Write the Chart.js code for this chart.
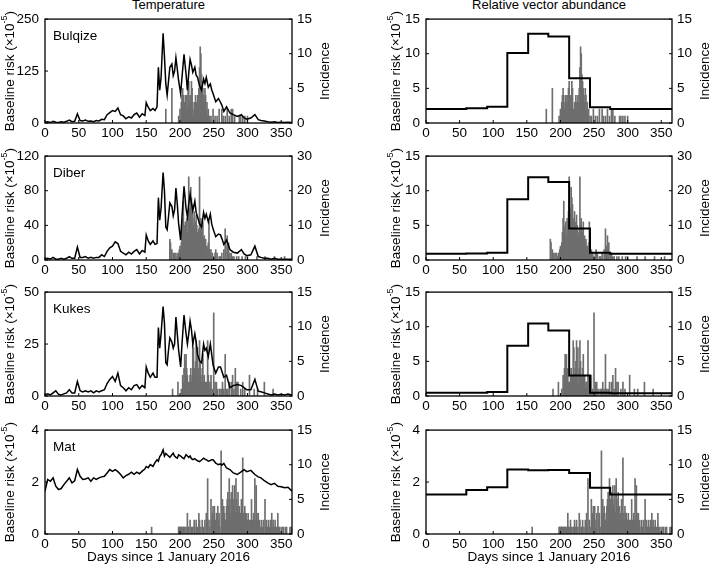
<!DOCTYPE html>
<html lang="en">
<head>
<meta charset="UTF-8">
<title>Baseline risk and incidence by district</title>
<style>
  body { margin: 0; background: #fff; overflow: hidden; width: 709px; height: 572px; position: relative;
         font-family: 'Liberation Sans', Arial, sans-serif; }
  canvas { position: absolute; }
  .colTitle { position: absolute; top: -3px; font-size: 13px; line-height: 16px; text-align: center; color: #000; }
</style>
</head>
<body>
<div class="colTitle" style="left:45px;width:247px">Temperature</div>
<div class="colTitle" style="left:426px;width:246px">Relative vector abundance</div>

<script src="https://cdn.jsdelivr.net/npm/chart.js"></script>
<script>
// ---- data ----
const districts = ['Bulqize', 'Diber', 'Kukes', 'Mat'];

// baseline risk driven by temperature, sampled days
const tempDays = [0,4,8,12,16,20,24,28,32,36, 40,44,48,52,56,60,64,68,72,76,
  80,84,88,92,96,100,104,108,112,116, 120,124,128,132,136,140,144,148,150,153,
  156,160,163,166,168,170,172,175,177,179, 181,183,185,188,190,192,194,196,198,201,
  203,206,209,211,213,215,217,219,222,224, 226,229,232,235,237,239,242,245,247,249,
  253,257,260,262,265,269,274,279,285,291, 295,299,305,311,316,320,325,330,335,340,
  345,350,355,360,366];
const bulqizeTemp = [2,3,1,4,2,1,3,2,4,7, 3,4,22,6,5,7,4,5,3,6,
  5,9,8,20,25,30,28,36,20,17, 10,15,12,20,24,14,22,18,49,38,
  30,35,30,39,134,79,110,216,160,94, 67,100,134,142,114,125,157,130,102,71,
  110,165,118,79,120,153,140,122,134,115, 110,90,79,106,95,110,86,94,80,71,
  51,59,50,43,28,39,24,20,16,20, 12,9,12,20,8,6,5,3,2,3,
  1,2,1,2,1];
const diberTemp = [1,2,1,3,1,1,2,1,2,4, 2,2,15,3,3,4,2,3,2,3,
  3,6,4,10,14,16,21,19,10,8, 6,9,7,10,12,7,11,9,29,22,
  18,22,18,19,72,46,60,101,80,38, 35,50,66,62,51,58,83,65,42,23,
  50,85,60,50,65,76,66,57,68,55, 50,42,38,55,48,53,44,53,42,36,
  27,30,29,25,18,23,12,9,8,12, 7,5,6,16,4,3,2,2,1,2,
  1,1,1,1,1];
const kukesTemp = [0.5,1,0.5,1.5,2.5,0.8,0.5,1,1.5,3, 1.5,1.5,7,2.5,2,2.5,2,2.5,1.5,2.5,
  2,2.5,3,6,8,9.4,7,11,5,4, 2.5,4,3,5,5.5,3.5,5,4,14,11,
  9,11,9,9,33,23,30,43,35,16, 15,22,28,26,23,25,38,30,22,14,
  25,39,30,25,30,36,32,25,30,26, 20,17,16,25,22,23,19,25,20,15,
  11,14,14,12,9,10,4,5,5.5,5, 4,3,3,8,2.3,2,1.5,1,0.5,1,
  0.5,0.8,0.5,1,0.5];
const matTemp = [1.65,2.1,2.03,2.16,1.84,1.71,1.75,1.9,2.03,2.16, 1.97,2.05,2.48,2.22,2.1,2.12,2.16,2.03,2.16,2.1,
  2.16,2.2,2.22,2.35,2.48,2.41,2.48,2.4,2.29,2.16, 2.25,2.3,2.38,2.3,2.38,2.32,2.42,2.5,2.6,2.55,
  2.67,2.6,2.75,2.86,2.8,2.98,3.05,3.24,3.0,3.1, 3.05,3.0,2.95,3.05,3.11,3.0,2.95,2.92,3.05,3.0,
  2.95,2.9,3.05,3.0,2.95,3.0,2.9,2.86,2.9,2.85, 2.82,2.79,2.85,2.92,2.88,2.86,2.8,2.83,2.86,2.86,
  2.73,2.67,2.7,2.65,2.72,2.54,2.48,2.35,2.29,2.4, 2.48,2.4,2.45,2.29,2.2,2.16,2.05,1.97,1.9,1.95,
  1.84,1.82,1.78,1.8,1.65];

// baseline risk driven by vector abundance, one value per month (2016)
const monthStart = [0,31,60,91,121,152,182,213,244,274,305,335,366];
const bulqizeVector = [2.03,2.03,2.12,2.36,10.1,12.9,12.5,6.46,2.26,2.03,2.03,2.03];
const diberVector   = [0.89,0.89,0.94,1.03,8.77,11.95,11.25,4.55,1.03,0.89,0.89,0.89];
const kukesVector   = [0.47,0.47,0.47,0.56,7.27,10.45,9.47,2.95,0.47,0.38,0.38,0.38];
const matVector     = [1.52,1.52,1.69,1.80,2.48,2.45,2.46,2.35,1.78,1.52,1.52,1.52];

// daily incidence [day, cases]
const bulqizeCases = [[179,2],[188,5],[198,1],[200,2],[202,3],[203,4],[204,5],[205,4],[206,2],[207,3],
  [208,4],[209,3],[210,4],[211,2],[212,5],[213,6],[214,3],[215,4],[216,2],[217,6],[218,5],[219,2],
  [220,1],[221,3],[222,2],[223,4],[224,3],[225,2],[226,4],[227,3],[228,5],[229,8],[230,11],[231,10],
  [232,7],[233,6],[234,5],[235,4],[236,3],[237,5],[238,4],[239,2],[240,3],[241,1],[242,2],[244,1],
  [246,1],[249,2],[252,1],[255,1],[258,2],[262,2],[264,1],[267,1],[270,2],[273,1],[276,2],[278,2],
  [281,1],[288,1],[290,1],[293,1],[296,1],[300,1]];
const diberCases = [[185,6],[186,5],[188,3],[190,2],[192,2],[194,2],[196,1],[197,2],[198,2],[199,3],
  [200,4],[201,3],[202,5],[203,8],[204,12],[205,17],[206,9],[207,10],[208,11],[209,7],[210,12],
  [211,8],[212,14],[213,24],[214,15],[215,13],[216,21],[217,18],[218,16],[219,12],[220,10],[221,14],
  [222,9],[223,11],[224,13],[225,10],[226,8],[227,7],[228,9],[229,24],[230,10],[231,12],[232,9],
  [233,8],[234,11],[235,6],[236,7],[237,5],[238,6],[239,4],[240,4],[241,3],[242,5],[243,11],[244,3],
  [245,2],[246,3],[247,1],[248,2],[250,1],[252,2],[253,3],[255,2],[258,1],[260,1],[262,2],[265,3],
  [267,9],[268,4],[270,7],[271,3],[272,5],[274,2],[276,2],[278,1],[280,1],[284,1],[287,1],[292,1],
  [297,1],[300,1],[314,1],[326,1],[340,1],[355,1]];
const kukesCases = [[189,1],[197,2],[202,1],[204,3],[205,2],[206,4],[207,6],[208,5],[209,6],[210,4],
  [211,3],[212,2],[213,1],[214,2],[215,3],[216,4],[217,2],[218,3],[219,8],[220,7],[221,3],[222,4],
  [223,5],[224,8],[225,3],[226,7],[227,2],[228,4],[229,8],[230,5],[231,3],[232,2],[233,4],[234,6],
  [235,2],[236,3],[237,1],[238,2],[239,2],[240,1],[241,8],[242,3],[243,2],[244,1],[245,2],[246,3],
  [248,1],[250,12],[252,2],[254,2],[256,1],[259,1],[261,1],[263,2],[265,1],[267,6],[269,1],[271,1],
  [273,2],[276,2],[278,3],[280,1],[282,4],[284,2],[286,2],[290,1],[293,2],[296,1],[303,3],[310,1],
  [315,1],[325,2],[338,1]];
const matCases = [[158,1],[198,1],[199,1],[200,1],[201,1],[202,1],[203,1],[205,1],[206,1],[207,1],
  [209,1],[211,3],[212,1],[213,1],[215,2],[217,1],[219,1],[221,2],[222,1],[224,2],[226,1],[228,3],
  [229,2],[231,1],[233,2],[235,1],[237,2],[239,3],[240,1],[241,8],[243,2],[244,1],[246,5],[247,2],
  [248,3],[249,4],[250,2],[251,4],[252,1],[253,2],[254,3],[256,4],[257,2],[258,3],[259,1],[261,12],
  [262,2],[263,5],[264,3],[265,4],[266,3],[267,2],[268,2],[269,4],[270,5],[271,6],[272,4],[273,8],
  [274,5],[275,3],[276,6],[277,5],[278,7],[279,4],[280,5],[281,7],[282,3],[283,8],[284,5],[285,4],
  [286,6],[287,3],[288,4],[289,2],[290,3],[291,5],[292,2],[293,11],[294,3],[295,2],[296,4],[297,3],
  [298,3],[299,2],[300,2],[301,3],[302,1],[303,2],[304,2],[306,5],[307,2],[308,1],[309,3],[310,2],
  [311,8],[312,2],[313,7],[314,3],[315,2],[316,3],[317,1],[318,2],[320,1],[321,2],[322,1],[324,2],
  [326,5],[327,1],[328,2],[330,1],[331,2],[333,1],[334,2],[336,3],[337,1],[338,2],[340,1],[341,2],
  [343,1],[345,3],[346,1],[348,1],[351,1],[353,1],[356,1],[358,1],[363,1],[365,1]];

// tick labels
const dayTicks = [0,50,100,150,200,250,300,350];
const tempRiskTicks = [[0,125,250],[0,40,80,120],[0,25,50],[0,2,4]];
const vectorRiskTicks = [[0,5,10,15],[0,5,10,15],[0,5,10,15],[0,2,4]];
const caseTicks = [[0,5,10,15],[0,10,20,30],[0,5,10,15],[0,5,10,15]];

const tempSeries = [bulqizeTemp, diberTemp, kukesTemp, matTemp];
const vectorSeries = [bulqizeVector, diberVector, kukesVector, matVector];
const caseSeries = [bulqizeCases, diberCases, kukesCases, matCases];

// ---- drawing ----
const FONT = "'Liberation Sans', Arial, sans-serif";
Chart.defaults.font.family = FONT;
Chart.defaults.font.size = 13.5;
Chart.defaults.color = '#000';

const frameTops = [17, 154, 290, 428];
const plotH = 106;
const padTop = 12;

const framePlugin = {
  id: 'frame',
  afterDatasetsDraw(chart, args, opts) {
    const { ctx, chartArea: a, scales } = chart;
    const midY = (a.top + a.bottom) / 2;
    ctx.save();
    ctx.strokeStyle = '#000';
    ctx.lineWidth = 1.3;
    ctx.strokeRect(a.left, a.top, a.right - a.left, a.bottom - a.top);
    ctx.lineWidth = 1;
    ctx.beginPath();
    scales.x.ticks.forEach(t => {
      const px = scales.x.getPixelForValue(t.value);
      ctx.moveTo(px, a.bottom); ctx.lineTo(px, a.bottom - 3);
    });
    scales.y.ticks.forEach(t => {
      const py = scales.y.getPixelForValue(t.value);
      ctx.moveTo(a.left, py); ctx.lineTo(a.left + 3, py);
    });
    scales.y1.ticks.forEach(t => {
      const py = scales.y1.getPixelForValue(t.value);
      ctx.moveTo(a.right, py); ctx.lineTo(a.right - 3, py);
    });
    ctx.stroke();

    ctx.fillStyle = '#000';
    ctx.textBaseline = 'middle';
    ctx.font = '13.5px ' + FONT;
    if (opts.name) ctx.fillText(opts.name, a.left + 8, a.top + 17);

    // left axis title with a real superscript, reading bottom to top
    ctx.save();
    ctx.translate(opts.titleX, midY);
    ctx.rotate(-Math.PI / 2);
    const main = 'Baseline risk (\u00d710';
    const sup = '-5';
    ctx.font = '13.5px ' + FONT;
    const w1 = ctx.measureText(main).width;
    const w3 = ctx.measureText(')').width;
    ctx.font = '9px ' + FONT;
    const w2 = ctx.measureText(sup).width;
    let x0 = -(w1 + w2 + w3) / 2;
    ctx.font = '13.5px ' + FONT;
    ctx.fillText(main, x0, 0);
    ctx.font = '9px ' + FONT;
    ctx.fillText(sup, x0 + w1, -5);
    ctx.font = '13.5px ' + FONT;
    ctx.fillText(')', x0 + w1 + w2, 0);
    ctx.restore();

    // right axis title, also reading bottom to top
    ctx.translate(a.right + 33, midY);
    ctx.rotate(-Math.PI / 2);
    ctx.textAlign = 'center';
    ctx.font = '13.5px ' + FONT;
    ctx.fillText('Incidence', 0, 0);
    ctx.restore();
  }
};

function makePanel(row, col) {
  const canvas = document.createElement('canvas');
  const left = col === 0 ? 0 : 384;
  const width = col === 0 ? 340 : 325;
  const xH = row === 3 ? 35 : 20;
  const height = padTop + plotH + xH;
  canvas.width = width;
  canvas.height = height;
  canvas.style.left = left + 'px';
  canvas.style.top = (frameTops[row] - padTop) + 'px';
  document.body.appendChild(canvas);

  const leftW = col === 0 ? 45 : 42;
  const rightW = col === 0 ? 48 : 37;

  let riskData, riskTicks;
  if (col === 0) {
    riskData = tempDays.map((d, i) => ({ x: d, y: tempSeries[row][i] }));
    riskTicks = tempRiskTicks[row];
  } else {
    const v = vectorSeries[row];
    riskData = v.map((y, i) => ({ x: monthStart[i], y: y }));
    riskData.push({ x: monthStart[12], y: v[11] });
    riskTicks = vectorRiskTicks[row];
  }
  const cases = caseSeries[row].map(p => ({ x: p[0], y: p[1] }));
  const cTicks = caseTicks[row];

  new Chart(canvas, {
    type: 'bar',
    data: {
      datasets: [
        {
          type: 'line', data: riskData, yAxisID: 'y', order: 0,
          borderColor: '#000', borderWidth: col === 0 ? 1.5 : 2,
          pointRadius: 0, tension: 0, stepped: col === 1 ? 'before' : false
        },
        {
          type: 'bar', data: cases, yAxisID: 'y1', order: 1,
          backgroundColor: '#6e6e6e', borderWidth: 0, barThickness: 1
        }
      ]
    },
    options: {
      responsive: false,
      animation: false,
      layout: { padding: { top: padTop, left: 0, right: 0, bottom: 0 } },
      plugins: {
        legend: { display: false },
        tooltip: { enabled: false },
        frame: { name: col === 0 ? districts[row] : '', titleX: col === 0 ? 10 : 12 }
      },
      scales: {
        x: {
          type: 'linear', min: 0, max: 366, offset: false,
          grid: { display: false, drawTicks: false }, border: { display: false },
          afterBuildTicks: s => { s.ticks = dayTicks.map(v => ({ value: v })); },
          afterFit: s => { s.height = xH; },
          ticks: { padding: 2, autoSkip: false, maxRotation: 0 },
          title: {
            display: row === 3, text: 'Days since 1 January 2016',
            font: { size: 13.5 }, padding: { top: 0, bottom: 4 }
          }
        },
        y: {
          position: 'left', min: 0, max: riskTicks[riskTicks.length - 1],
          grid: { display: false, drawTicks: false }, border: { display: false },
          afterBuildTicks: s => { s.ticks = riskTicks.map(v => ({ value: v })); },
          afterFit: s => { s.width = leftW; },
          ticks: { padding: 6 }
        },
        y1: {
          position: 'right', min: 0, max: cTicks[cTicks.length - 1],
          grid: { display: false, drawTicks: false }, border: { display: false },
          afterBuildTicks: s => { s.ticks = cTicks.map(v => ({ value: v })); },
          afterFit: s => { s.width = rightW; },
          ticks: { padding: 5 }
        }
      }
    },
    plugins: [framePlugin]
  });
}

for (let r = 0; r < 4; r++) {
  makePanel(r, 0);
  makePanel(r, 1);
}
</script>
</body>
</html>
